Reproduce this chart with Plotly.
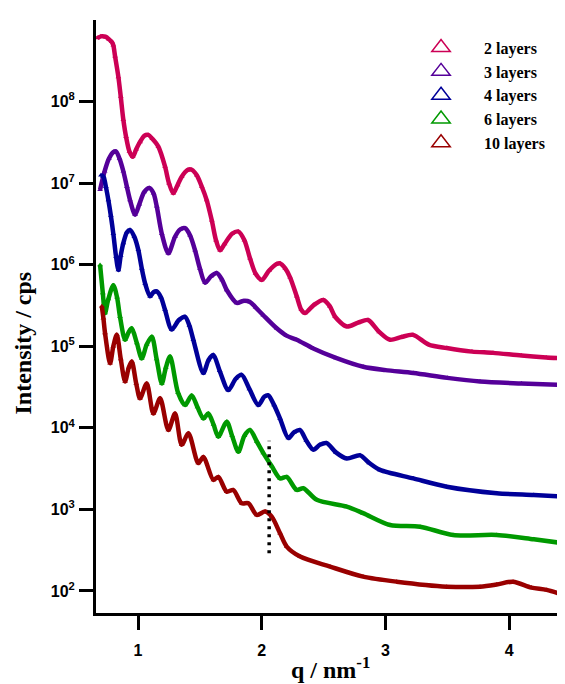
import plotly.graph_objects as go

# ---- data (q in nm^-1, intensity in cps) ----
q_2 = [0.67, 0.70, 0.74, 0.765, 0.787, 0.800, 0.814, 0.841, 0.860, 0.881, 0.903, 0.930, 0.957, 0.985,
       1.016, 1.050, 1.083, 1.115, 1.164, 1.218, 1.250, 1.285, 1.320, 1.353, 1.400, 1.434, 1.475, 1.515,
       1.555, 1.596, 1.630, 1.663, 1.700, 1.760, 1.811, 1.860, 1.905, 1.950, 2.000, 2.060, 2.120, 2.148,
       2.190, 2.229, 2.283, 2.320, 2.350, 2.420, 2.498, 2.550, 2.593, 2.687, 2.780, 2.859, 2.950, 3.037,
       3.130, 3.223, 3.350, 3.496, 3.700, 3.870, 4.100, 4.300, 4.440]
I_2 = [6.0e8, 6.3e8, 6.2e8, 5.8e8, 5.4e8, 4.9e8, 3.6e8, 2.0e8, 1.15e8, 6.0e7, 3.7e7, 2.45e7, 2.1e7, 2.6e7,
       3.2e7, 3.8e7, 3.9e7, 3.5e7, 2.8e7, 1.6e7, 1.0e7, 7.5e6, 9.5e6, 1.2e7, 1.45e7, 1.46e7, 1.25e7, 9.1e6,
       6.2e6, 3.5e6, 2.0e6, 1.5e6, 1.8e6, 2.4e6, 2.55e6, 2.0e6, 1.2e6, 7.8e5, 6.5e5, 8.5e5, 1.02e6, 1.04e6,
       9.0e5, 7.0e5, 4.1e5, 2.8e5, 2.55e5, 3.2e5, 3.7e5, 3.1e5, 2.3e5, 1.75e5, 1.95e5, 2.1e5, 1.5e5, 1.2e5,
       1.3e5, 1.38e5, 1.05e5, 9.5e4, 8.6e4, 8.3e4, 7.7e4, 7.3e4, 7.1e4]

q_3 = [0.693, 0.730, 0.765, 0.800, 0.822, 0.850, 0.881, 0.910, 0.935, 0.976, 1.010, 1.050, 1.091, 1.125,
       1.151, 1.192, 1.245, 1.299, 1.340, 1.380, 1.420, 1.461, 1.500, 1.542, 1.590, 1.636, 1.680, 1.717,
       1.798, 1.850, 1.905, 1.950, 2.013, 2.121, 2.200, 2.283, 2.417, 2.600, 2.821, 3.000, 3.226, 3.500,
       3.765, 4.100, 4.440]
I_3 = [8.3e6, 1.4e7, 2.0e7, 2.4e7, 2.44e7, 2.0e7, 1.4e7, 9.0e6, 6.2e6, 4.1e6, 5.5e6, 7.8e6, 8.7e6, 7.5e6,
       5.2e6, 2.4e6, 1.38e6, 2.2e6, 2.7e6, 2.8e6, 2.3e6, 1.5e6, 9.0e5, 6.0e5, 7.2e5, 7.9e5, 6.5e5, 4.9e5,
       3.4e5, 3.6e5, 3.5e5, 3.0e5, 2.4e5, 1.66e5, 1.35e5, 1.2e5, 9.4e4, 7.2e4, 5.6e4, 5.1e4, 4.7e4, 4.1e4,
       3.7e4, 3.5e4, 3.35e4]

q_4 = [0.700, 0.720, 0.740, 0.760, 0.780, 0.800, 0.822, 0.841, 0.860, 0.881, 0.910, 0.935, 0.970, 1.002,
       1.030, 1.057, 1.097, 1.125, 1.151, 1.185, 1.218, 1.272, 1.330, 1.380, 1.415, 1.447, 1.528, 1.570,
       1.609, 1.660, 1.730, 1.790, 1.838, 1.900, 1.973, 2.020, 2.053, 2.100, 2.148, 2.215, 2.260, 2.310,
       2.360, 2.417, 2.470, 2.525, 2.600, 2.687, 2.795, 2.870, 2.956, 3.226, 3.496, 3.900, 4.200, 4.440]
I_4 = [1.25e7, 1.2e7, 9.0e6, 6.2e6, 4.0e6, 2.4e6, 1.26e6, 8.6e5, 1.3e6, 1.84e6, 2.5e6, 2.67e6, 2.2e6, 1.52e6,
       9.0e5, 5.9e5, 4.1e5, 4.6e5, 4.7e5, 4.0e5, 2.8e5, 1.6e5, 2.1e5, 2.3e5, 1.8e5, 1.2e5, 4.7e4, 6.8e4,
       7.8e4, 5.0e4, 2.9e4, 4.0e4, 4.46e4, 3.0e4, 1.9e4, 2.4e4, 2.5e4, 1.9e4, 1.3e4, 7.5e3, 8.8e3, 9.4e3,
       7.0e3, 5.4e3, 6.2e3, 6.5e3, 5.0e3, 4.2e3, 4.6e3, 3.7e3, 3.05e3, 2.4e3, 1.9e3, 1.58e3, 1.5e3, 1.43e3]

q_6 = [0.693, 0.715, 0.733, 0.760, 0.800, 0.830, 0.854, 0.895, 0.925, 0.949, 0.990, 1.030, 1.070, 1.111,
       1.150, 1.192, 1.225, 1.259, 1.323, 1.380, 1.434, 1.480, 1.528, 1.568, 1.610, 1.649, 1.717, 1.760,
       1.811, 1.860, 1.905, 1.960, 2.013, 2.080, 2.148, 2.202, 2.283, 2.336, 2.445, 2.687, 2.819, 3.037,
       3.280, 3.547, 3.900, 4.200, 4.440]
I_6 = [9.9e5, 4.5e5, 2.55e5, 3.8e5, 5.6e5, 4.0e5, 2.3e5, 1.2e5, 1.5e5, 1.66e5, 1.1e5, 7.1e4, 1.05e5, 1.31e5,
       7.0e4, 3.5e4, 5.5e4, 7.5e4, 2.7e4, 1.9e4, 2.5e4, 1.8e4, 1.3e4, 1.5e4, 1.1e4, 7.8e3, 1.19e4, 8.0e3,
       5.1e3, 8.0e3, 9.4e3, 6.8e3, 4.9e3, 3.4e3, 2.4e3, 2.5e3, 1.73e3, 1.82e3, 1.31e3, 1.08e3, 900, 644,
       614, 486, 486, 430, 385]

q_10 = [0.707, 0.720, 0.733, 0.774, 0.800, 0.828, 0.860, 0.895, 0.925, 0.949, 0.985, 1.016, 1.070, 1.124,
        1.178, 1.245, 1.299, 1.353, 1.407, 1.487, 1.528, 1.609, 1.649, 1.717, 1.770, 1.838, 1.892, 1.960,
        2.027, 2.081, 2.148, 2.202, 2.310, 2.552, 2.819, 3.091, 3.496, 3.765, 3.900, 4.032, 4.180, 4.304, 4.440]
I_10 = [3.1e5, 2.2e5, 1.45e5, 6.2e4, 1.0e5, 1.38e5, 7.0e4, 3.7e4, 5.5e4, 6.5e4, 3.5e4, 2.3e4, 3.5e4, 1.5e4,
        2.3e4, 9.4e3, 1.5e4, 6.2e3, 8.6e3, 3.7e3, 4.4e3, 2.3e3, 2.5e3, 1.65e3, 1.73e3, 1.19e3, 1.19e3, 855,
        940, 815, 510, 350, 264, 199, 150, 130, 113, 113, 120, 130, 110, 103, 89]

marker_q = [2.06, 2.06]
marker_I = [290, 6970]

series_names = ["2 layers", "3 layers", "4 layers", "6 layers", "10 layers"]
series_q = [q_2, q_3, q_4, q_6, q_10]
series_I = [I_2, I_3, I_4, I_6, I_10]
colors = ["#CC0055", "#550099", "#000099", "#009900", "#990000"]

x_ticks = [1, 2, 3, 4]
y_tickvals = [1e2, 1e3, 1e4, 1e5, 1e6, 1e7, 1e8]
y_ticktext = ["<b>10<sup>%d</sup></b>" % e for e in range(2, 9)]

fig = go.Figure()

for name, qs, Is, c in zip(series_names, series_q, series_I, colors):
    fig.add_trace(go.Scatter(
        x=qs, y=Is, mode="lines+markers", name=name, showlegend=False,
        line=dict(color=c, width=4.5, shape="spline", smoothing=0.8),
        marker=dict(symbol="triangle-up", size=5, color=c),
    ))

# dotted vertical marker
fig.add_trace(go.Scatter(
    x=marker_q, y=marker_I, mode="lines", showlegend=False,
    line=dict(color="black", width=3.5, dash="3px,5px"),
))

# legend entries
for name, c in zip(series_names, colors):
    fig.add_trace(go.Scatter(
        x=[None], y=[None], mode="markers", name="<b>%s</b>" % name,
        marker=dict(symbol="triangle-up-open", size=16, color=c, line=dict(color=c, width=1.5)),
    ))

fig.update_layout(
    width=565, height=684,
    margin=dict(l=88, r=8, t=12, b=79),
    plot_bgcolor="white", paper_bgcolor="white",
    font=dict(family="Liberation Sans", color="black"),
    legend=dict(
        x=0.644, y=0.982, xanchor="left", yanchor="top",
        bgcolor="rgba(0,0,0,0)",
        font=dict(family="Liberation Serif", size=16, color="black"),
        itemsizing="trace", itemwidth=76,
    ),
    xaxis=dict(
        range=[0.66, 4.452], tickvals=x_ticks, ticktext=["<b>%d</b>" % t for t in x_ticks],
        showgrid=False, zeroline=False, showline=True, linewidth=3, linecolor="black",
        ticks="outside", ticklen=14, tickwidth=3, tickcolor="black",
        tickfont=dict(family="Liberation Sans", size=16, color="black"),
        ticklabelstandoff=7,
    ),
    yaxis=dict(
        type="log", range=[1.73, 9.0], tickvals=y_tickvals, ticktext=y_ticktext,
        showgrid=False, zeroline=False, showline=True, linewidth=3, linecolor="black",
        ticks="outside", ticklen=14, tickwidth=3, tickcolor="black",
        tickfont=dict(family="Liberation Sans", size=16, color="black"),
        ticklabelstandoff=1,
    ),
    annotations=[
        dict(text="<b>q / nm<sup>-1</sup></b>", xref="paper", yref="paper", x=0.5, y=-0.093,
             xanchor="center", yanchor="middle", showarrow=False,
             font=dict(family="Liberation Serif", size=24, color="black")),
        dict(text="<b>Intensity / cps</b>", xref="paper", yref="paper", x=-0.155, y=0.455,
             xanchor="center", yanchor="middle", textangle=-90, showarrow=False,
             font=dict(family="Liberation Serif", size=24, color="black")),
    ],
)

fig.write_html("out.html")
